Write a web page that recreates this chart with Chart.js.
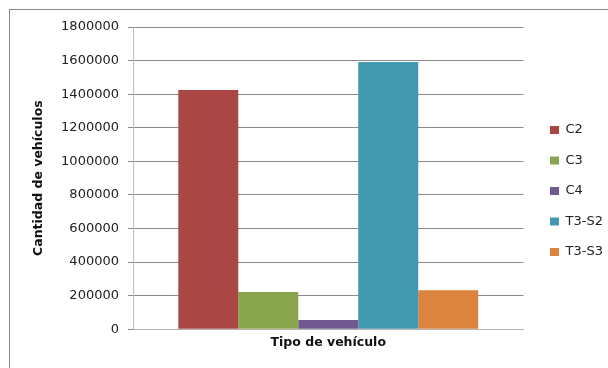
<!DOCTYPE html>
<html>
<head>
<meta charset="utf-8">
<script src="https://cdn.jsdelivr.net/npm/chart.js@4/dist/chart.umd.min.js"></script>
<style>
  html, body { margin: 0; padding: 0; background: #fff; overflow: hidden; }
  #frame { position: absolute; left: 9px; top: 9px; width: 700px; height: 500px; border: 1px solid #8a8a8a; }
  #wrap { position: absolute; left: 0; top: 0; width: 608px; height: 368px; }
</style>
</head>
<body>
<div id="frame"></div>
<div id="wrap"><canvas id="chart" width="608" height="368"></canvas></div>
<script>
// one category, five vehicle types
const categories = [''];
const seriesNames = ['C2', 'C3', 'C4', 'T3-S2', 'T3-S3'];
const seriesValues = [1425000, 222000, 55000, 1591000, 232000];
const seriesColors = ['#AA4643', '#89A54E', '#71588F', '#4198AF', '#DB843D'];

const yTitle = 'Cantidad de vehículos';
const xTitle = 'Tipo de vehículo';

const font = 'DejaVu Sans';

const ctx = document.getElementById('chart').getContext('2d');
new Chart(ctx, {
  type: 'bar',
  data: {
    labels: categories,
    datasets: seriesNames.map((name, i) => ({
      label: name,
      data: [seriesValues[i]],
      backgroundColor: seriesColors[i],
      borderWidth: 0,
      categoryPercentage: 0.768,
      barPercentage: 1
    }))
  },
  options: {
    responsive: false,
    animation: false,
    layout: { padding: { left: 0, top: 27, right: 5.5, bottom: 13 } },
    plugins: {
      tooltip: { enabled: false },
      legend: {
        position: 'right',
        maxWidth: 70,
        labels: {
          boxWidth: 9,
          boxHeight: 8,
          padding: 17.5,
          color: '#222',
          font: { family: font, size: 13 }
        }
      }
    },
    scales: {
      x: {
        ticks: { display: false },
        grid: { display: false },
        border: { color: '#b4b4b4', width: 1 },
        title: {
          display: true,
          text: xTitle,
          color: '#111',
          font: { family: font, size: 12.5, weight: 'bold' },
          padding: { top: 0, bottom: 4.5 }
        },
        afterFit: s => { s.height = 25.7; }
      },
      y: {
        min: 0,
        max: 1800000,
        ticks: {
          stepSize: 200000,
          padding: 9,
          color: '#222',
          font: { family: font, size: 13 },
          callback: v => String(v)
        },
        grid: { color: '#8a8a8a', tickLength: 5, drawTicks: true },
        border: { color: '#bcbcbc' },
        title: {
          display: true,
          text: yTitle,
          color: '#111',
          font: { family: font, size: 12.5, weight: 'bold' },
          padding: { top: 31.5, bottom: 0 }
        },
        afterFit: s => { s.width = 133; }
      },
      gap: {
        type: 'linear',
        position: 'right',
        ticks: { display: false },
        grid: { display: false },
        border: { display: false },
        afterFit: s => { s.width = 9; }
      }
    }
  }
});
</script>
</body>
</html>
